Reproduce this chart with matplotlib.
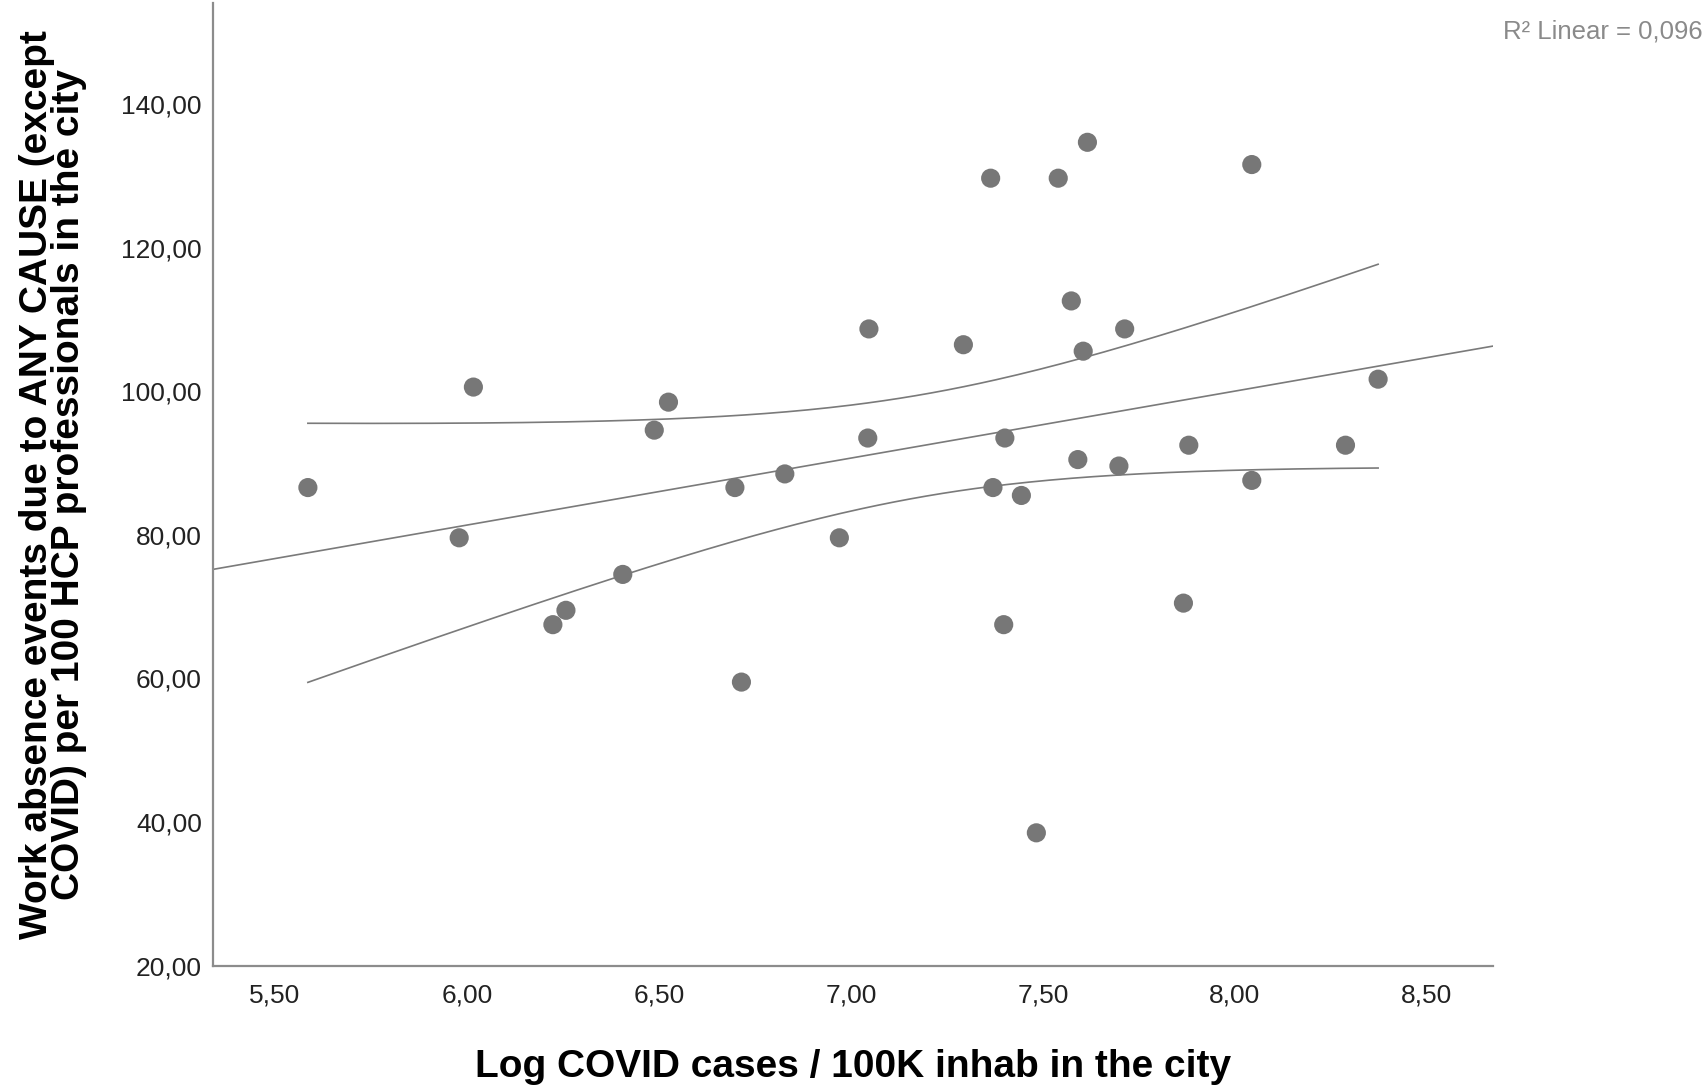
import numpy as np
import matplotlib
matplotlib.use("Agg")
import matplotlib.pyplot as plt
from matplotlib.ticker import FuncFormatter

plt.rcParams['font.family'] = ['Liberation Sans', 'DejaVu Sans']

# log COVID cases / 100K inhab (x) and work absence events per 100 HCP (y)
log_cases = [5.586, 5.980, 6.017, 6.224, 6.258, 6.406, 6.488, 6.525, 6.698, 6.715,
             6.828, 6.970, 7.044, 7.047, 7.293, 7.364, 7.370, 7.398, 7.401, 7.444,
             7.483, 7.540, 7.574, 7.591, 7.605, 7.616, 7.698, 7.713, 7.866, 7.880,
             8.044, 8.044, 8.288, 8.373]
absence = [86.6, 79.6, 100.6, 67.5, 69.5, 74.5, 94.6, 98.5, 86.6, 59.5,
           88.5, 79.6, 93.5, 108.7, 106.5, 129.7, 86.6, 67.5, 93.5, 85.5,
           38.5, 129.7, 112.6, 90.5, 105.6, 134.7, 89.6, 108.7, 70.5, 92.5,
           131.6, 87.6, 92.5, 101.7]
r2_label = "R\u00b2 Linear = 0,096"
x_ticks = [5.5, 6.0, 6.5, 7.0, 7.5, 8.0, 8.5]
y_ticks = [20, 40, 60, 80, 100, 120, 140]
T_CRIT = 2.037  # t(0.975, df=32)

GREY = '#7a7a7a'
AXIS_GREY = '#8c8c8c'


def fit_with_band(x, y, grid):
    slope, intercept = np.polyfit(x, y, 1)
    resid = y - (slope * x + intercept)
    n = len(x)
    s = np.sqrt(np.sum(resid ** 2) / (n - 2))
    sxx = np.sum((x - x.mean()) ** 2)
    se = s * np.sqrt(1.0 / n + (grid - x.mean()) ** 2 / sxx)
    fit = slope * grid + intercept
    return slope, intercept, fit - T_CRIT * se, fit + T_CRIT * se


def comma(v, pos):
    return f"{v:.2f}".replace('.', ',')


x = np.array(log_cases)
y = np.array(absence)

fig = plt.figure(figsize=(17.07, 10.89), dpi=100)
ax = fig.add_axes([0.1248, 0.1133, 0.7498, 0.8839])

xlim = (5.339, 8.672)
ylim = (20, 154.1)

grid = np.linspace(x.min(), x.max(), 200)
slope, intercept, lo, hi = fit_with_band(x, y, grid)
ax.plot(xlim, [slope * v + intercept for v in xlim], color=GREY, lw=1.2, zorder=2)
ax.plot(grid, lo, color=GREY, lw=1.2, zorder=2)
ax.plot(grid, hi, color=GREY, lw=1.2, zorder=2)

ax.scatter(x, y, s=190, color='#777777', edgecolors='none', zorder=3)

ax.set_xlim(*xlim)
ax.set_ylim(*ylim)
ax.set_xticks(x_ticks)
ax.set_yticks(y_ticks)
ax.xaxis.set_major_formatter(FuncFormatter(comma))
ax.yaxis.set_major_formatter(FuncFormatter(comma))
ax.tick_params(length=0, labelsize=19, colors='#222222')
ax.tick_params(axis='y', pad=8)
ax.tick_params(axis='x', pad=13)

for side in ['top', 'right']:
    ax.spines[side].set_visible(False)
for side in ['left', 'bottom']:
    ax.spines[side].set_color(AXIS_GREY)
    ax.spines[side].set_linewidth(1.6)

ax.set_xlabel('Log COVID cases / 100K inhab in the city', fontsize=28,
              fontweight='bold', labelpad=30)
ax.set_ylabel('Work absence events due to ANY CAUSE (except\nCOVID) per 100 HCP professionals in the city',
              fontsize=28, fontweight='bold', labelpad=25, linespacing=0.85)

fig.text(1503 / 1707, 1 - 31 / 1089, r2_label, fontsize=18.5, color='#8a8a8a',
         ha='left', va='center')

fig.savefig('out.png', dpi=100)
plt.close(fig)
